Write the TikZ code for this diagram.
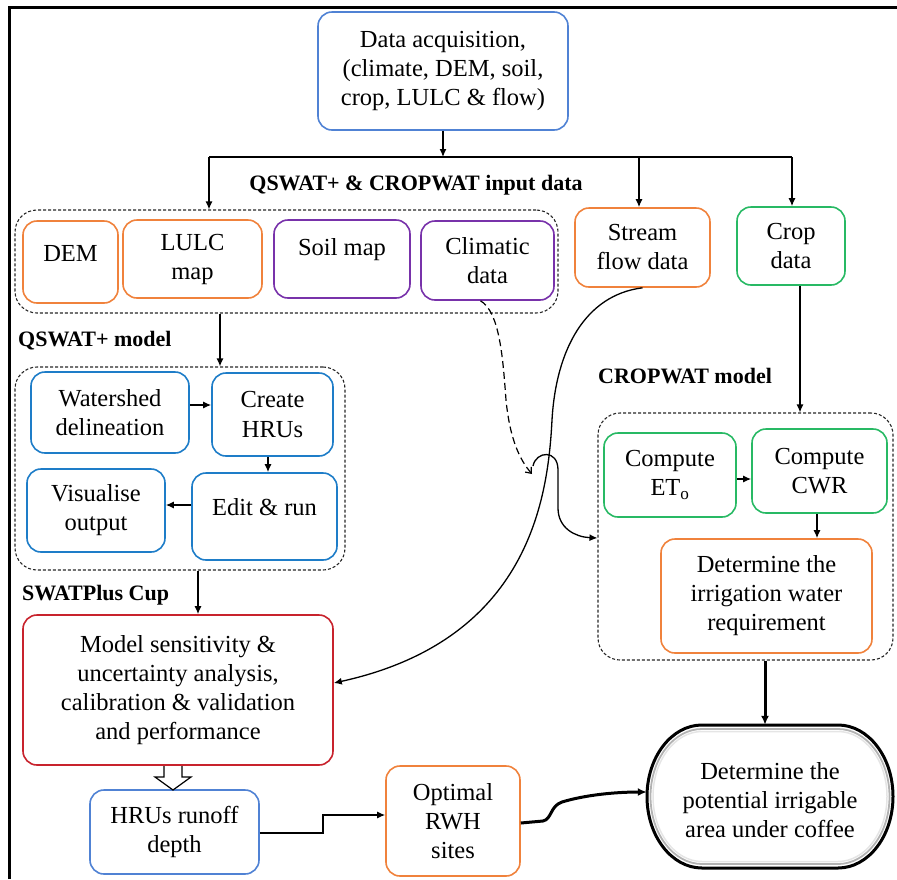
\documentclass[tikz,border=0pt]{standalone}
\usepackage{fontspec}
\setmainfont{Liberation Serif}
\usetikzlibrary{arrows.meta,calc,fit}
\definecolor{blueA}{RGB}{80,130,212}
\definecolor{blueB}{RGB}{30,125,200}
\definecolor{orng}{RGB}{240,130,60}
\definecolor{purp}{RGB}{120,50,170}
\definecolor{grn}{RGB}{40,185,100}
\definecolor{redc}{RGB}{200,35,45}
\newcommand\bx[7]{\node[box=#2, fit={(#3,#4) (#5,#6)}] (#1) {};
  \node[txt] (#1t) at (#1.center) {#7};}
\newcommand\up[1]{\raisebox{9pt}[\height][\depth]{#1}}
\begin{document}
\begin{tikzpicture}[x=1pt,y=-1pt,
  box/.style={draw=#1, line width=1.6pt, rounded corners=14pt, inner sep=0pt},
  txt/.style={align=center, inner sep=0pt, font=\fontsize{24.5}{29}\selectfont},
  grp/.style={draw=black!85, dash pattern=on 3pt off 2pt, line width=1.1pt, rounded corners=22pt, inner sep=0pt},
  lbl/.style={font=\fontsize{22}{26}\selectfont\bfseries, inner sep=0pt},
  conn/.style={-{Latex[length=8pt,width=7pt]}, line width=1.3pt},
  tconn/.style={-{Latex[length=9pt,width=8pt]}, line width=3pt},
]
\useasboundingbox (0,0) rectangle (897,879);
% frame
\draw[line width=3pt] (9.5,879) -- (9.5,7) -- (897,7);

% groups
\node[grp, fit={(15,210) (558,313)}] (g1) {};
\node[grp, fit={(15,367) (345,570)}] (g2) {};
\node[grp, fit={(598,413) (893,660)}] (g3) {};

% boxes
\bx{data}{blueA}{318}{12}{568}{130}{Data acquisition,\\(climate, DEM, soil,\\crop, LULC \& flow)}
\bx{dem}{orng}{23}{221}{118}{303}{\up{DEM}}
\bx{lulc}{orng}{123}{220}{262}{298}{LULC\\map}
\bx{soil}{purp}{274}{220}{410}{298}{\up{Soil map}}
\bx{clim}{purp}{421}{221}{554}{300}{Climatic\\data}
\bx{stream}{orng}{575}{208}{710}{287}{Stream\\flow data}
\bx{crop}{grn}{737}{207}{845}{285}{Crop\\data}
\bx{ws}{blueB}{31}{372}{189}{453}{Watershed\\delineation}
\bx{hru}{blueB}{212}{373}{333}{456}{Create\\HRUs}
\bx{vis}{blueB}{27}{469}{165}{552}{Visualise\\output}
\bx{edit}{blueB}{192}{473}{337}{560}{\up{Edit \& run}}
\bx{model}{redc}{23}{615}{333}{765}{Model sensitivity \&\\uncertainty analysis,\\calibration \& validation\\and performance}
\bx{runoff}{blueA}{90}{790}{259}{874}{HRUs runoff\\depth}
\bx{rwh}{orng}{386}{766}{520}{876}{Optimal\\RWH\\sites}
\bx{eto}{grn}{604}{433}{736}{517}{Compute\\ET\textsubscript{o}}
\bx{cwr}{grn}{752}{429}{887}{513}{Compute\\CWR}
\bx{irr}{orng}{661}{539}{872}{653}{Determine the\\irrigation water\\requirement}

% terminal
\coordinate (t1) at (647,725);
\coordinate (t2) at (893,868);
\node[fit=(t1)(t2), inner sep=0pt] (term) {};
\node[txt] (termt) at ([yshift=-4pt]term.center) {Determine the\\potential irrigable\\area under coffee};
\draw[gray!20, line width=1.5pt] (702,731.5) -- (838,731.5) arc[start angle=-90,end angle=90,x radius=49,y radius=65] -- (702,861.5) arc[start angle=90,end angle=270,x radius=49,y radius=65] -- cycle;
\draw[gray!60, line width=1.8pt] (702,729) -- (838,729) arc[start angle=-90,end angle=90,x radius=51.5,y radius=67.5] -- (702,864) arc[start angle=90,end angle=270,x radius=51.5,y radius=67.5] -- cycle;
\draw[line width=3pt] (702,725) -- (838,725) arc[start angle=-90,end angle=90,x radius=55,y radius=71.5] -- (702,868) arc[start angle=90,end angle=270,x radius=55,y radius=71.5] -- cycle;

% labels
\node[lbl] (lab1) at (416,185) {QSWAT+ \& CROPWAT input data};
\node[lbl, anchor=west] (lab2) at (18,341) {QSWAT+ model};
\node[lbl, anchor=west] (lab3) at (22,595) {SWATPlus Cup};
\node[lbl, anchor=west] (lab4) at (598,376) {CROPWAT model};

% helper coordinates
\coordinate (bus) at (443,157);
\coordinate (busL) at (209,157);
\coordinate (busS) at (639,157);
\coordinate (busR) at (792,157);
\coordinate (xa) at (220,0);
\coordinate (xb) at (198,0);
\coordinate (xc) at (800,0);
\coordinate (xd) at (765,0);
\coordinate (xe) at (268,0);
\coordinate (xf) at (817,0);
\coordinate (ya) at (0,405);
\coordinate (yb) at (0,505);
\coordinate (yc) at (0,479);
\coordinate (yd) at (0,538);
\coordinate (ye) at (0,683);
\coordinate (yf) at (0,823);
\coordinate (yg) at (0,792);
\coordinate (k1) at (323,833);
\coordinate (k2) at (323,815);
\coordinate (dashend) at (532,474);
\coordinate (hop) at (533,466);

% connectors
\draw[conn] (data.south) -- (bus);
\draw[line width=1.3pt] (busL) -- (busR);
\draw[conn] (busL) -- (busL |- g1.north);
\draw[conn] (busS) -- (busS |- stream.north);
\draw[conn] (busR) -- (busR |- crop.north);
\draw[conn] (g1.south -| xa) -- (g2.north -| xa);
\draw[conn] (ws.east |- ya) -- (hru.west |- ya);
\draw[conn] (hru.south -| xe) -- (edit.north -| xe);
\draw[conn] (edit.west |- yb) -- (vis.east |- yb);
\draw[conn] (g2.south -| xb) -- (model.north -| xb);
\draw[conn] (crop.south -| xc) -- (g3.north -| xc);
\draw[conn] (eto.east |- yc) -- (cwr.west |- yc);
\draw[conn] (cwr.south -| xf) -- (irr.north -| xf);
\draw[tconn] (g3.south -| xd) -- (term.north -| xd);
\draw[conn] (runoff.east |- k1) -- (k1) -- (k2) -- (rwh.west |- k2);
\draw[tconn] (rwh.east |- yf) -- (543,821) .. controls (552,819) and (550,806) .. (562,802) .. controls (585,795) and (615,792) .. (term.west |- yg);
% stream flow curve
\draw[conn] (stream.south) .. controls (585,295) and (556,350) .. (552,420) .. controls (548,497) and (530,640) .. (model.east |- ye);
% climatic dashed
\draw[dash pattern=on 7pt off 4pt, line width=1.2pt, -{Straight Barb[length=5pt,width=8pt]}] ([xshift=-7pt]clim.south) .. controls (500,312) and (503,360) .. (506,400) .. controls (510,440) and (520,460) .. (dashend);
\draw[conn] (hop) .. controls (536,451) and (558,449) .. (558,470) -- (558,508) .. controls (558,528) and (575,537) .. (g3.west |- yd);
% hollow block arrow
\draw[line width=1.2pt, fill=white] (164,766) -- (164,777) -- (155,777) -- (173,790) -- (191,777) -- (182,777) -- (182,766);
\end{tikzpicture}
\end{document}
